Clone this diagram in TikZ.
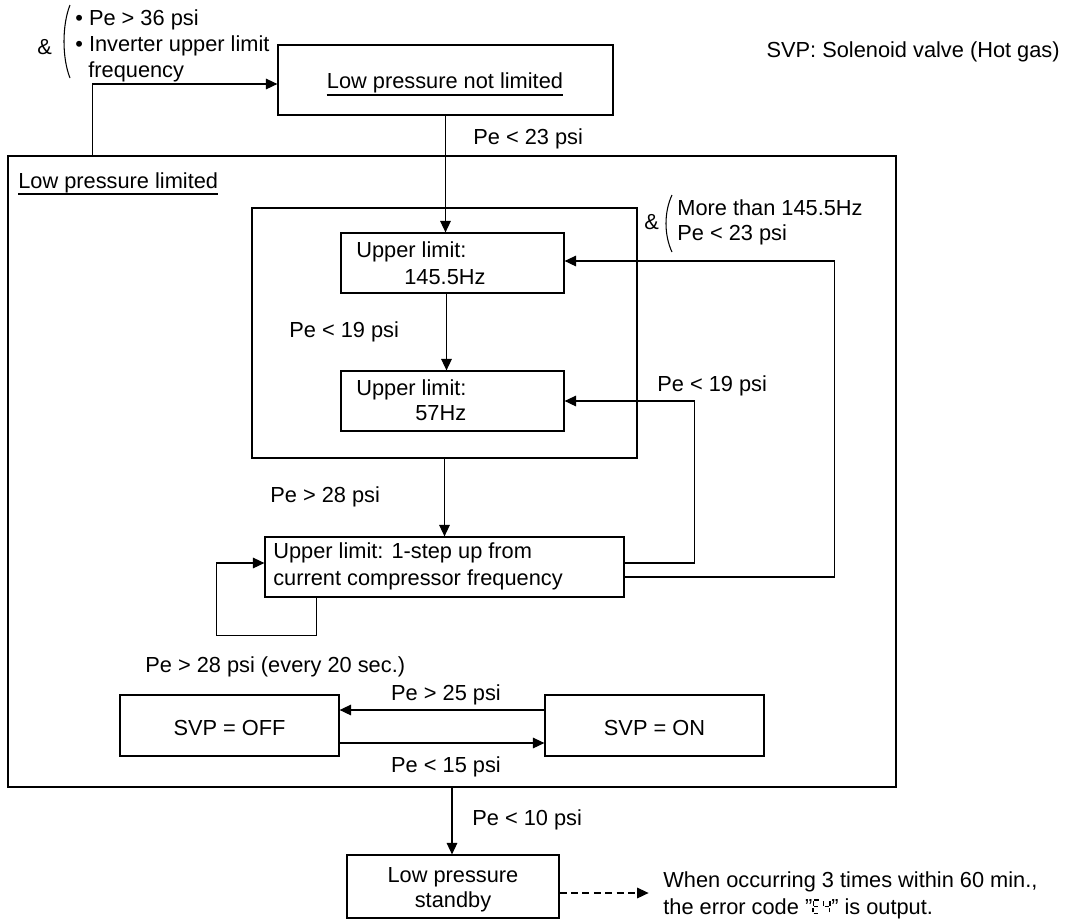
\documentclass[tikz,border=0pt]{standalone}
\usepackage{fontspec}
\setmainfont{Liberation Sans}
\usetikzlibrary{arrows.meta,calc}
\newcommand\fs{\fontsize{12.4}{14.5}\selectfont}
\newcommand\mkbox[5]{\node[box, minimum width={(#4-#2)*0.02cm}, minimum height={(#5-#3)*0.02cm}] (#1) at ({(#2+#4)/2},{(#3+#5)/2}) {};}
\newcommand\codeEF{{\setlength\unitlength{0.6pt}%
\begin{picture}(18,14)
\put(1.6,12.8){\rule{4.4\unitlength}{1.2\unitlength}}
\put(0.3,7.9){\rule{1.2\unitlength}{4.4\unitlength}}
\put(1.6,6.4){\rule{4.0\unitlength}{1.2\unitlength}}
\put(0,1.6){\rule{1.2\unitlength}{4.4\unitlength}}
\put(1.3,0){\rule{4.4\unitlength}{1.2\unitlength}}
\put(10.3,7.9){\rule{1.2\unitlength}{4.4\unitlength}}
\put(16.3,7.9){\rule{1.2\unitlength}{4.4\unitlength}}
\put(11.6,6.4){\rule{4.4\unitlength}{1.2\unitlength}}
\put(16,1.6){\rule{1.2\unitlength}{4.4\unitlength}}
\end{picture}}}
\begin{document}
\begin{tikzpicture}[x=0.02cm,y=-0.02cm,
  box/.style={draw, line width=0.7pt, inner sep=0pt},
  txt/.style={inner sep=0pt, anchor=base west, font=\fs},
  ctxt/.style={inner sep=0pt, anchor=base, font=\fs},
  conn/.style={line width=0.7pt},
  arr/.style={conn, -{Triangle[length=6.5pt,width=6pt]}},
  dasharr/.style={arr, dash pattern=on 4pt off 2.5pt},
  ul/.style={line width=1.1pt},
  brk/.style={line width=0.6pt}]
\useasboundingbox (0,0) rectangle (1065,920);

% boxes
\mkbox{B1}{278}{45}{613}{115}
\mkbox{L}{8}{156}{896}{787}
\mkbox{I}{252}{208}{637}{458}
\mkbox{U1}{341}{233}{564}{293}
\mkbox{U2}{341}{371}{564}{431}
\mkbox{S}{265}{537}{624}{597}
\mkbox{OFF}{120}{695}{339}{756}
\mkbox{ON}{545}{695}{764}{756}
\mkbox{SB}{347}{855}{559}{918}

% texts
\node[txt] (tamp1) at (37,54) {\&};
\node[txt] (tc1) at (75,25) {\textbullet\ Pe > 36 psi};
\node[txt] (tc2) at (75,51) {\textbullet\ Inverter upper limit};
\node[txt] (tc3) at (88,77) {frequency};
\draw[brk] (70,5) .. controls (62,25) and (62,58) .. (70,78);

\node[ctxt] (tB1) at (445,88) {Low pressure not limited};
\draw[ul] ($(tB1.base west)+(0,7)$) -- ($(tB1.base east)+(0,7)$);
\node[txt, anchor=base east] (tsvp) at (1060,57) {SVP: Solenoid valve (Hot gas)};
\node[txt] (l23) at (473,144) {Pe < 23 psi};
\node[txt] (tL) at (18,188) {Low pressure limited};
\draw[ul] ($(tL.base west)+(0,6)$) -- ($(tL.base east)+(0,6)$);

\node[txt] (tamp2) at (644,229) {\&};
\draw[brk] (672,195) .. controls (664,212) and (664,235) .. (672,252);
\node[txt] (tm1) at (677,215) {More than 145.5Hz};
\node[txt] (tm2) at (677,240) {Pe < 23 psi};

\node[txt] (tU1a) at (356,257) {Upper limit:};
\node[txt] (tU1b) at (404,284) {145.5Hz};
\node[txt] (l19a) at (289,337) {Pe < 19 psi};
\node[txt] (tU2a) at (356,395) {Upper limit:};
\node[txt] (tU2b) at (415,420) {57Hz};
\node[txt] (l19b) at (657,391) {Pe < 19 psi};
\node[txt] (l28) at (270,502) {Pe > 28 psi};
\node[txt] (tSa) at (273,558) {Upper limit: 1-step up from};
\node[txt] (tSb) at (273,585) {current compressor frequency};
\node[txt] (l28b) at (145,672) {Pe > 28 psi (every 20 sec.)};
\node[ctxt] (l25) at (446,700) {Pe > 25 psi};
\node[ctxt] (tOFF) at (229.5,735) {SVP = OFF};
\node[ctxt] (tON) at (654.5,735) {SVP = ON};
\node[ctxt] (l15) at (446,772) {Pe < 15 psi};
\node[txt] (l10) at (472,825) {Pe < 10 psi};
\node[ctxt] (tSBa) at (453,882) {Low pressure};
\node[ctxt] (tSBb) at (453,907) {standby};
\node[txt] (tW1) at (663,887) {When occurring 3 times within 60 min.,};
\node[txt] (tW2) at (663,914) {the error code \char34\codeEF\char34{} is output.};

% connectors
\draw[arr] (L.north west) ++(85,0) |- ($(B1.west)+(0,4)$);
\draw[arr] (B1.south) -- (B1.south |- U1.north);
\draw[arr] ($(U1.south)+(-6,0)$) -- ($(U2.north)+(-6,0)$);
\draw[arr] (I.south) -- (S.north);
\draw[arr] (S.south west) ++(52,0) -- ++(0,38) -- ++(-100,0) |- ($(S.west)+(0,-4)$);
\draw[arr] ($(S.east)+(0,-4)$) -- ++(70,0) |- (U2.east);
\draw[arr] ($(S.east)+(0,10)$) -- ++(210,0) |- ($(U1.east)+(0,-2)$);
\draw[arr] ($(ON.west)+(0,-15.5)$) -- ($(OFF.east)+(0,-15.5)$);
\draw[arr] ($(OFF.east)+(0,17.5)$) -- ($(ON.west)+(0,17.5)$);
\draw[arr] (L.south) -- (L.south |- SB.north);
\draw[dasharr] ($(SB.east)+(0,6.5)$) -- ++(89,0) coordinate (dend);
\end{tikzpicture}
\end{document}
